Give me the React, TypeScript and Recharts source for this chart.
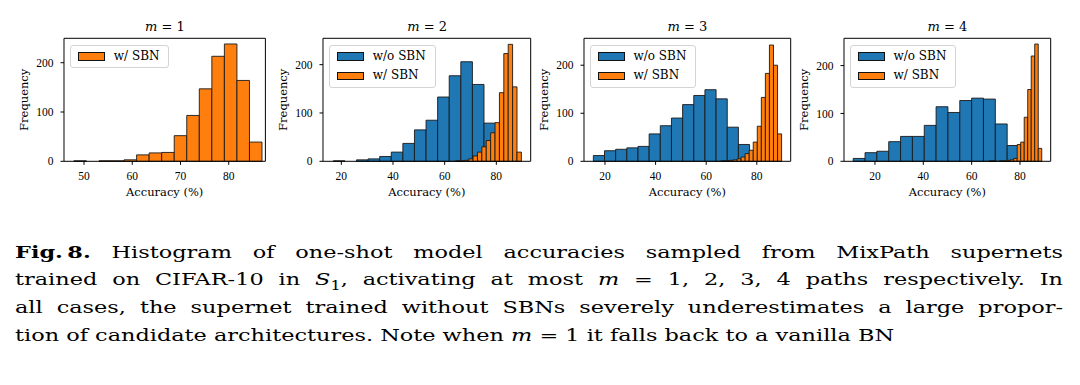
import React from "react";
import { ComposedChart, XAxis, YAxis, Scatter, ReferenceArea, Legend, Label } from "recharts";

const BLUE = "#1f77b4";
const ORANGE = "#ff7f0e";

// m = 1 (only the SBN run)
const m1WithSbn = [1, 0, 1, 1, 3, 13, 17, 18, 52, 93, 147, 213, 238, 164, 39];
const m1WithRange = [47.9, 86.9];

// m = 2
const m2WithoutSbn = [1, 0, 3, 5, 10, 19, 37, 65, 85, 133, 177, 206, 159, 79, 21];
const m2WithoutRange = [16.9, 84.2];
const m2WithSbn = [1, 1, 2, 5, 11, 19, 30, 43, 59, 80, 142, 223, 242, 154, 19];
const m2WithRange = [64.2, 89.7];

// m = 3
const m3WithoutSbn = [12, 22, 25, 28, 31, 57, 74, 90, 118, 137, 149, 130, 71, 35, 10];
const m3WithoutRange = [15.4, 81.55];
const m3WithSbn = [1, 1, 2, 3, 5, 9, 16, 23, 40, 73, 133, 183, 242, 200, 57];
const m3WithRange = [65.8, 89.8];

// m = 4
const m4WithoutSbn = [6, 18, 21, 41, 52, 52, 75, 114, 102, 127, 132, 130, 78, 33, 15];
const m4WithoutRange = [11.0, 84.5];
const m4WithSbn = [1, 1, 0, 1, 1, 2, 3, 6, 35, 40, 92, 150, 220, 245, 27];
const m4WithRange = [67.25, 89.0];

const yTicks = [0, 100, 200];

type Hist = { name: string; color: string; counts: number[]; range: number[] };

const toBins = (h: Hist) => {
  const [lo, hi] = h.range;
  const w = (hi - lo) / h.counts.length;
  return h.counts.map((c, i) => ({ x0: lo + i * w, x1: lo + (i + 1) * w, x: lo + (i + 0.5) * w, y: c }));
};

const panels = [
  {
    m: "1", plotLeft: 64.3, plotWidth: 201.4, xDomain: [45.85, 87.6], xTicks: [50, 60, 70, 80], yMax: 249.5,
    hists: [{ name: "w/ SBN", color: ORANGE, counts: m1WithSbn, range: m1WithRange }],
  },
  {
    m: "2", plotLeft: 323.3, plotWidth: 207.7, xDomain: [12.9, 93.3], xTicks: [20, 40, 60, 80], yMax: 254.5,
    hists: [
      { name: "w/o SBN", color: BLUE, counts: m2WithoutSbn, range: m2WithoutRange },
      { name: "w/ SBN", color: ORANGE, counts: m2WithSbn, range: m2WithRange },
    ],
  },
  {
    m: "3", plotLeft: 584, plotWidth: 206.7, xDomain: [11.7, 93.4], xTicks: [20, 40, 60, 80], yMax: 256,
    hists: [
      { name: "w/o SBN", color: BLUE, counts: m3WithoutSbn, range: m3WithoutRange },
      { name: "w/ SBN", color: ORANGE, counts: m3WithSbn, range: m3WithRange },
    ],
  },
  {
    m: "4", plotLeft: 844, plotWidth: 206.7, xDomain: [7.2, 92.7], xTicks: [20, 40, 60, 80], yMax: 257,
    hists: [
      { name: "w/o SBN", color: BLUE, counts: m4WithoutSbn, range: m4WithoutRange },
      { name: "w/ SBN", color: ORANGE, counts: m4WithSbn, range: m4WithRange },
    ],
  },
];

const AXIS_W = 81;
const CHART_H = 210;
const tickFont = { fill: "#000", fontSize: 11.5, fontFamily: "Liberation Serif" };

const LegendBox = ({ hists }: { hists: Hist[] }) => (
  <div
    style={{
      border: "1px solid #d4d4d4",
      borderRadius: 3,
      background: "rgba(255,255,255,0.85)",
      padding: "1px 9px 1px 7px",
      fontFamily: "DejaVu Serif",
      fontSize: 12,
      lineHeight: "19.3px",
      color: "#000",
    }}
  >
    {hists.map((h) => (
      <div key={h.name} style={{ display: "flex", alignItems: "center", whiteSpace: "nowrap" }}>
        <span
          style={{
            display: "inline-block",
            width: 27,
            height: 8.6,
            background: h.color,
            border: "1px solid #111",
            boxSizing: "border-box",
            marginRight: 9,
          }}
        />
        {h.name}
      </div>
    ))}
  </div>
);

const Panel = ({ p }: { p: (typeof panels)[number] }) => {
  const width = AXIS_W + p.plotWidth + 8;
  const points = p.hists.flatMap((h) => toBins(h));
  return (
    <div style={{ position: "absolute", left: p.plotLeft - AXIS_W, top: 0, width, height: CHART_H }}>
      <ComposedChart width={width} height={CHART_H} margin={{ top: 38.3, right: 8, bottom: 0, left: 0 }}>
        <XAxis
          type="number"
          dataKey="x"
          domain={p.xDomain}
          allowDataOverflow
          ticks={p.xTicks}
          height={48.7}
          axisLine={false}
          tickLine={{ stroke: "#000" }}
          tickSize={3.5}
          tickMargin={7}
          tick={tickFont}
        >
          <Label value="Accuracy (%)" position="insideBottom" offset={14.3} fill="#000" fontSize={11.5} fontFamily="DejaVu Serif" />
        </XAxis>
        <YAxis
          type="number"
          dataKey="y"
          domain={[0, p.yMax]}
          allowDataOverflow
          ticks={yTicks}
          width={AXIS_W}
          axisLine={false}
          tickLine={{ stroke: "#000" }}
          tickSize={3.5}
          tickMargin={7}
          tick={tickFont}
        >
          <Label value="Frequency" angle={-90} position="center" fill="#000" fontSize={11.5} fontFamily="DejaVu Serif" />
        </YAxis>
        <Scatter data={points} fill="none" isAnimationActive={false} legendType="none" />
        {p.hists.map((h) =>
          toBins(h).map((b, i) => (
            <ReferenceArea
              key={h.name + i}
              x1={b.x0}
              x2={b.x1}
              y1={0}
              y2={b.y}
              fill={h.color}
              fillOpacity={1}
              stroke="#1a1a1a"
              strokeWidth={0.9}
              ifOverflow="visible"
            />
          ))
        )}
        <ReferenceArea
          x1={p.xDomain[0]}
          x2={p.xDomain[1]}
          y1={0}
          y2={p.yMax}
          fill="none"
          fillOpacity={0}
          stroke="#000"
          strokeWidth={1}
        />
        <Legend
          layout="vertical"
          align="center"
          verticalAlign="middle"
          wrapperStyle={{ top: 45, left: AXIS_W + 5.5, width: "auto", height: "auto" }}
          content={() => <LegendBox hists={p.hists} />}
        />
      </ComposedChart>
      <div
        style={{
          position: "absolute",
          left: AXIS_W,
          width: p.plotWidth,
          top: 19,
          textAlign: "center",
          fontFamily: "DejaVu Serif",
          fontSize: 13,
          lineHeight: "15px",
          color: "#000",
        }}
      >
        <i>m</i> = {p.m}
      </div>
    </div>
  );
};

// the caption in the picture is wider than it is tall, so it is stretched sideways
const CAPTION_SCALE = 1.28;
const justified: React.CSSProperties = { textAlign: "justify", textAlignLast: "justify" };

export default function App() {
  return (
    <div style={{ position: "absolute", left: 0, top: 0, width: 1080, height: 385, background: "#fff", overflow: "hidden" }}>
      {panels.map((p) => (
        <Panel key={p.m} p={p} />
      ))}
      <div
        style={{
          position: "absolute",
          left: 15,
          top: 238.5,
          width: 1048 / CAPTION_SCALE,
          transform: `scaleX(${CAPTION_SCALE})`,
          transformOrigin: "left top",
          fontFamily: "DejaVu Serif",
          fontSize: 17.5,
          lineHeight: "27.8px",
          color: "#000",
        }}
      >
        <div style={justified}>
          <b>Fig.&thinsp;8.</b> Histogram of one-shot model accuracies sampled from MixPath supernets
        </div>
        <div style={justified}>
          trained on CIFAR-10 in <i>S</i>
          <sub style={{ fontSize: "0.72em", lineHeight: 0 }}>1</sub>, activating at most <i>m</i> = 1, 2, 3, 4 paths respectively. In
        </div>
        <div style={justified}>
          all cases, the supernet trained without SBNs severely underestimates a large propor-
        </div>
        <div style={{ whiteSpace: "nowrap" }}>
          tion of candidate architectures. Note when <i>m</i> = 1 it falls back to a vanilla BN
        </div>
      </div>
    </div>
  );
}
